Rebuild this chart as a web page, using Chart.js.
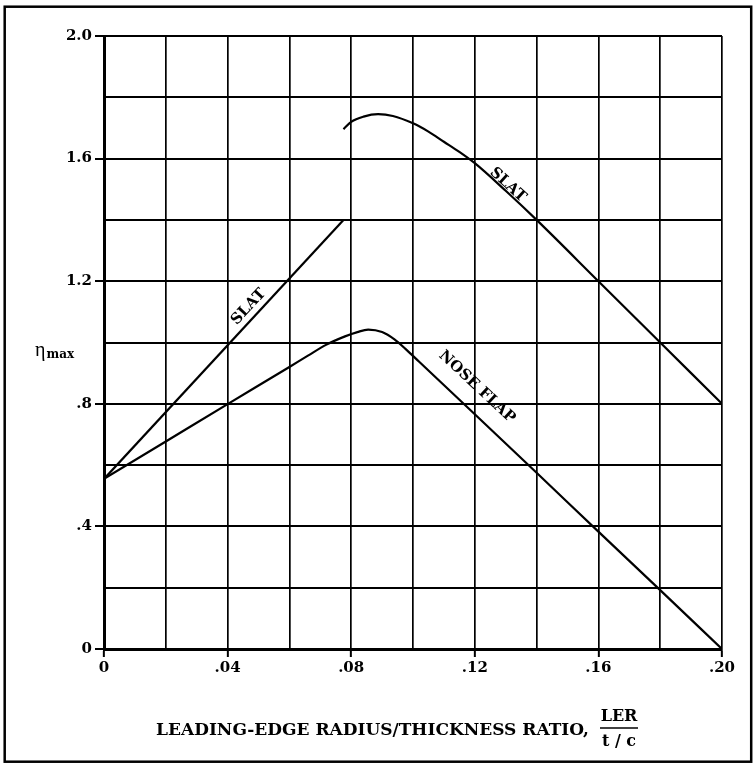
<!DOCTYPE html>
<html>
<head>
<meta charset="utf-8">
<script src="https://cdn.jsdelivr.net/npm/chart.js@4.4.0/dist/chart.umd.min.js"></script>
<style>
  html, body { margin: 0; padding: 0; background: #fff; }
  #wrap { width: 756px; height: 767px; position: relative; }
</style>
</head>
<body>
<div id="wrap"><canvas id="c" width="756" height="767"></canvas></div>
<script>
// ---- data ----
const xTickLabels = ['0', '.04', '.08', '.12', '.16', '.20'];
const yTickLabels = ['0', '.4', '.8', '1.2', '1.6', '2.0'];

const slatLowerX = [0, 0.0775];
const slatLowerY = [0.555, 1.40];

const slatUpperX = [0.0775, 0.080, 0.084, 0.0887, 0.0935, 0.100, 0.105, 0.110, 0.115, 0.120, 0.130, 0.140, 0.160, 0.180, 0.200];
const slatUpperY = [1.696, 1.720, 1.737, 1.745, 1.739, 1.715, 1.688, 1.655, 1.622, 1.585, 1.495, 1.400, 1.200, 1.000, 0.800];

const noseFlapX = [0, 0.02, 0.04, 0.06, 0.066, 0.072, 0.078, 0.082, 0.0855, 0.090, 0.094, 0.098, 0.102, 0.120, 0.140, 0.160, 0.180, 0.200];
const noseFlapY = [0.555, 0.677, 0.799, 0.920, 0.957, 0.993, 1.020, 1.034, 1.042, 1.034, 1.010, 0.975, 0.937, 0.766, 0.575, 0.383, 0.192, 0.000];

const curveLabelText = ['SLAT', 'SLAT', 'NOSE FLAP'];
const curveLabelX = [0.0468, 0.1307, 0.1207];
const curveLabelY = [1.116, 1.514, 0.855];
const curveLabelAngle = [-47, 42, 43];

const xTitle = 'LEADING-EDGE RADIUS/THICKNESS RATIO,';
const xTitleNum = 'LER';
const xTitleDen = 't / c';
const yTitleMain = 'η';
const yTitleSub = 'max';

// ---- helpers ----
const pts = (xs, ys) => xs.map((x, i) => ({ x: x, y: ys[i] }));
const SERIF = '"DejaVu Serif", "Liberation Serif", serif';

const lineStyle = {
  borderColor: '#000',
  borderWidth: 2.2,
  pointRadius: 0,
  fill: false,
  cubicInterpolationMode: 'monotone'
};

const decorPlugin = {
  id: 'decor',
  afterDraw(chart) {
    const ctx = chart.ctx;
    const xs = chart.scales.x, ys = chart.scales.y;
    ctx.save();
    // outer frame
    ctx.strokeStyle = '#000';
    ctx.lineWidth = 2.5;
    ctx.strokeRect(4.7, 6.7, 746.5, 755);

    // curve labels
    ctx.fillStyle = '#000';
    ctx.font = 'bold 15px ' + SERIF;
    ctx.textAlign = 'center';
    ctx.textBaseline = 'middle';
    for (let i = 0; i < curveLabelText.length; i++) {
      const px = xs.getPixelForValue(curveLabelX[i]);
      const py = ys.getPixelForValue(curveLabelY[i]);
      ctx.save();
      ctx.translate(px, py);
      ctx.rotate(curveLabelAngle[i] * Math.PI / 180);
      ctx.fillText(curveLabelText[i], 0, 0);
      ctx.restore();
    }

    // y-axis title
    ctx.textAlign = 'left';
    ctx.textBaseline = 'alphabetic';
    ctx.font = '20px "Liberation Serif", serif';
    ctx.fillText(yTitleMain, 35, 356);
    const w = ctx.measureText(yTitleMain).width;
    ctx.font = 'bold 12px ' + SERIF;
    ctx.fillText(yTitleSub, 35 + w + 1, 358);

    // x-axis title
    ctx.font = 'bold 17px ' + SERIF;
    ctx.textAlign = 'right';
    ctx.fillText(xTitle, 589, 735);
    ctx.textAlign = 'center';
    ctx.font = 'bold 16px ' + SERIF;
    ctx.fillText(xTitleNum, 619, 721);
    ctx.fillText(xTitleDen, 619, 746);
    ctx.lineWidth = 1.6;
    ctx.beginPath();
    ctx.moveTo(600, 728);
    ctx.lineTo(638, 728);
    ctx.stroke();
    ctx.restore();
  }
};

new Chart(document.getElementById('c'), {
  type: 'line',
  data: {
    datasets: [
      Object.assign({ label: 'SLAT (lower)', data: pts(slatLowerX, slatLowerY) }, lineStyle),
      Object.assign({ label: 'SLAT (upper)', data: pts(slatUpperX, slatUpperY) }, lineStyle),
      Object.assign({ label: 'NOSE FLAP', data: pts(noseFlapX, noseFlapY) }, lineStyle)
    ]
  },
  options: {
    responsive: false,
    animation: false,
    devicePixelRatio: 1,
    layout: { padding: { left: 0, right: 34, top: 36, bottom: 78 } },
    plugins: { legend: { display: false }, tooltip: { enabled: false }, title: { display: false } },
    scales: {
      x: {
        type: 'linear',
        min: 0, max: 0.2,
        afterFit: (s) => { s.height = 40; },
        ticks: {
          count: 11,
          maxRotation: 0,
          autoSkip: false,
          padding: 2,
          color: '#000',
          font: { family: SERIF, size: 15, weight: 'bold' },
          callback: (v, i) => (i % 2 === 0 ? xTickLabels[i / 2] : '')
        },
        grid: {
          color: '#000',
          lineWidth: 1.7,
          tickLength: 8,
          tickWidth: 2,
          tickColor: (c) => (c.index % 2 === 0 ? '#000' : 'rgba(0,0,0,0)')
        },
        border: { display: true, color: '#000', width: 3 }
      },
      y: {
        type: 'linear',
        min: 0, max: 2.0,
        afterFit: (s) => { s.width = 104; },
        ticks: {
          count: 11,
          autoSkip: false,
          padding: 3,
          color: '#000',
          font: { family: SERIF, size: 15, weight: 'bold' },
          callback: (v, i) => (i % 2 === 0 ? yTickLabels[i / 2] : '')
        },
        grid: {
          color: '#000',
          lineWidth: 2,
          tickLength: 9,
          tickWidth: 2,
          tickColor: (c) => (c.index % 2 === 0 ? '#000' : 'rgba(0,0,0,0)')
        },
        border: { display: true, color: '#000', width: 3 }
      }
    }
  },
  plugins: [decorPlugin]
});
</script>
</body>
</html>
